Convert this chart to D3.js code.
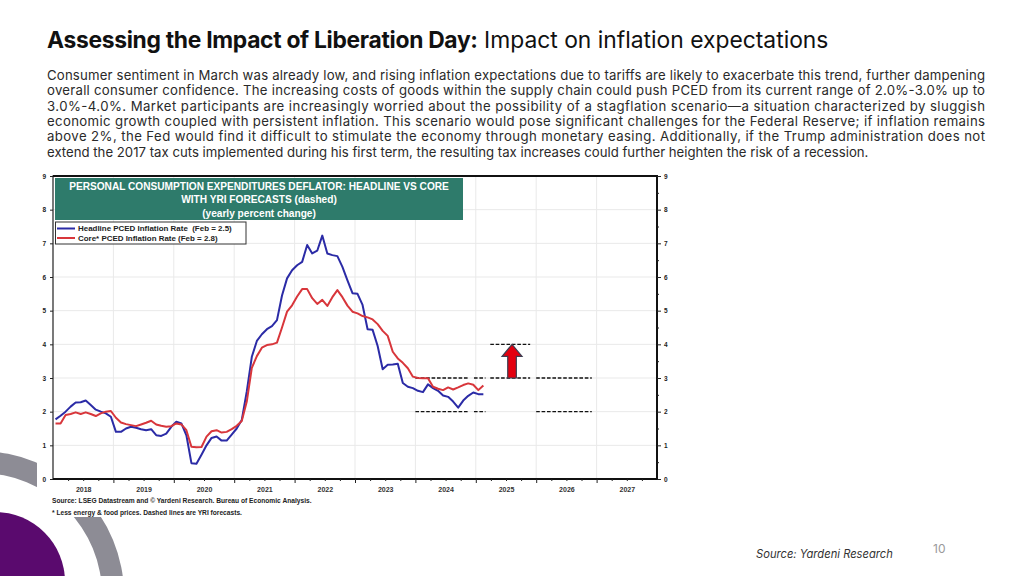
<!DOCTYPE html>
<html>
<head>
<meta charset="utf-8">
<script src="https://cdn.jsdelivr.net/npm/d3@7"></script>
<style>
  html, body { margin: 0; padding: 0; background: #fff; }
  svg { display: block; }
  text { white-space: pre; }
</style>
</head>
<body>
<svg id="slide" width="1024" height="576"></svg>
<script>
// monthly yoy % change, Jan 2018 .. Feb 2025
const startYear = 2018
const headline = [
  1.77, 1.88, 2.00, 2.15, 2.27, 2.28, 2.33, 2.20, 2.06, 2.00, 1.95, 1.85,
  1.40, 1.40, 1.50, 1.55, 1.52, 1.48, 1.45, 1.48, 1.30, 1.28, 1.35, 1.55,
  1.70, 1.65, 1.30, 0.47, 0.45, 0.72, 1.00, 1.22, 1.26, 1.14, 1.14, 1.32,
  1.50, 1.75, 2.60, 3.63, 4.10, 4.30, 4.45, 4.54, 4.72, 5.45, 5.96, 6.20,
  6.35, 6.45, 6.95, 6.70, 6.78, 7.23, 6.70, 6.65, 6.62, 6.30, 5.90, 5.52,
  5.50, 5.17, 4.45, 4.43, 3.95, 3.26, 3.39, 3.40, 3.42, 2.85, 2.74, 2.70,
  2.62, 2.58, 2.81, 2.70, 2.62, 2.48, 2.44, 2.30, 2.12, 2.33, 2.47, 2.57,
  2.52, 2.52
]
const core = [
  1.65, 1.65, 1.90, 1.93, 1.98, 1.93, 1.98, 1.93, 1.87, 1.95, 2.00, 2.02,
  1.82, 1.68, 1.63, 1.60, 1.57, 1.62, 1.67, 1.73, 1.62, 1.58, 1.55, 1.57,
  1.65, 1.62, 1.45, 0.96, 0.94, 0.95, 1.26, 1.42, 1.45, 1.38, 1.40, 1.48,
  1.58, 1.72, 2.30, 3.30, 3.65, 3.90, 3.98, 4.00, 4.05, 4.50, 4.97, 5.16,
  5.42, 5.64, 5.64, 5.37, 5.20, 5.32, 5.14, 5.40, 5.61, 5.40, 5.15, 4.97,
  4.92, 4.84, 4.80, 4.74, 4.60, 4.40, 4.25, 3.78, 3.58, 3.45, 3.29, 3.04,
  3.00, 2.99, 2.99, 2.74, 2.68, 2.64, 2.72, 2.66, 2.72, 2.79, 2.84, 2.80,
  2.64, 2.78
]
const yearLabels = [2018, 2019, 2020, 2021, 2022, 2023, 2024, 2025, 2026, 2027]
const yTicks = [0, 1, 2, 3, 4, 5, 6, 7, 8, 9]

// YRI forecast ranges (dashed)
const forecasts = [
  { value: 3, from: 2024.0, to: 2024.88 },
  { value: 3, from: 2024.97, to: 2025.16 },
  { value: 2, from: 2024.0, to: 2024.88 },
  { value: 2, from: 2024.97, to: 2025.16 },
  { value: 4, from: 2025.24, to: 2025.9 },
  { value: 3, from: 2025.24, to: 2025.9 },
  { value: 3, from: 2026.0, to: 2026.92 },
  { value: 2, from: 2026.0, to: 2026.92 }
]
const arrow = { at: 2025.6, from: 3, to: 4, headBase: 3.64 }

const titleBold = 'Assessing the Impact of Liberation Day:'
const titleRest = ' Impact on inflation expectations'
const paragraph = [
  'Consumer sentiment in March was already low, and rising inflation expectations due to tariffs are likely to exacerbate this trend, further dampening',
  'overall consumer confidence. The increasing costs of goods within the supply chain could push PCED from its current range of 2.0%-3.0% up to',
  '3.0%-4.0%. Market participants are increasingly worried about the possibility of a stagflation scenario\u2014a situation characterized by sluggish',
  'economic growth coupled with persistent inflation. This scenario would pose significant challenges for the Federal Reserve; if inflation remains',
  'above 2%, the Fed would find it difficult to stimulate the economy through monetary easing. Additionally, if the Trump administration does not',
  'extend the 2017 tax cuts implemented during his first term, the resulting tax increases could further heighten the risk of a recession.'
]
const headerLines = [
  'PERSONAL CONSUMPTION EXPENDITURES DEFLATOR: HEADLINE VS CORE',
  'WITH YRI FORECASTS (dashed)',
  '(yearly percent change)'
]
const legendItems = [
  { label: 'Headline PCED Inflation Rate  (Feb = 2.5)', color: '#2b2ba6' },
  { label: 'Core* PCED Inflation Rate (Feb = 2.8)', color: '#d8363b' }
]
const sourceLines = [
  'Source: LSEG Datastream and \u00a9 Yardeni Research. Bureau of Economic Analysis.',
  '* Less energy & food prices. Dashed lines are YRI forecasts.'
]

const SANS = 'Inter, "Noto Sans", sans-serif'
const ARIAL = '"Liberation Sans", Arial, sans-serif'

const svg = d3.select('#slide')

// scale a text's font so it spans a given width
const fitWidth = (sel, width) => {
  const fs = +sel.attr('font-size')
  const w = sel.node().getComputedTextLength()
  const size = fs * width / w
  sel.attr('font-size', size)
  return size
}

// decoration bottom-left
svg.append('path')
  .attr('transform', 'translate(-20,595)')
  .attr('d', d3.arc()({ innerRadius: 122, outerRadius: 144, startAngle: 0, endAngle: 2 * Math.PI }))
  .attr('fill', '#8d8c95')
svg.append('circle')
  .attr('cx', -5).attr('cy', 582).attr('r', 70)
  .attr('fill', '#5a0a6e')

// chart panel
svg.append('rect')
  .attr('x', 37).attr('y', 165).attr('width', 643).attr('height', 352)
  .attr('fill', '#fff')

// title
const title = svg.append('text')
  .attr('x', 47).attr('y', 48)
  .attr('font-family', SANS).attr('font-size', 21).attr('fill', '#111')
title.append('tspan').attr('font-weight', 700).attr('letter-spacing', -0.3).text(titleBold)
title.append('tspan').attr('font-weight', 400).text(titleRest)
fitWidth(title, 781)

// paragraph, justified
const para = svg.append('g')
  .attr('font-family', SANS).attr('fill', '#2a2a2a')
const lastLine = para.append('text')
  .attr('x', 47).attr('y', 80 + 5 * 15.3)
  .attr('font-size', 11)
  .text(paragraph[5])
const paraSize = fitWidth(lastLine, 822)
paragraph.slice(0, 5).forEach((line, i) => {
  para.append('text')
    .attr('x', 47).attr('y', 80 + i * 15.3)
    .attr('font-size', paraSize)
    .attr('textLength', 938)
    .attr('lengthAdjust', 'spacing')
    .text(line)
})

// chart
const margin = { top: 176, right: 657, bottom: 479, left: 53 }
const x = d3.scaleLinear().domain([2018, 2028]).range([margin.left, margin.right])
const y = d3.scaleLinear().domain([0, 9]).range([margin.bottom, margin.top])
const monthX = i => x(startYear + (i + 0.5) / 12)

const chart = svg.append('g')

// grid
chart.append('g')
  .selectAll('line')
  .data(yTicks.slice(1, -1))
  .join('line')
  .attr('x1', x(2018)).attr('x2', x(2028))
  .attr('y1', d => y(d)).attr('y2', d => y(d))
  .attr('stroke', '#e9e9e9').attr('stroke-width', 1)
chart.append('g')
  .selectAll('line')
  .data(yearLabels.slice(1))
  .join('line')
  .attr('x1', d => x(d)).attr('x2', d => x(d))
  .attr('y1', y(9)).attr('y2', y(0))
  .attr('stroke', '#e9e9e9').attr('stroke-width', 1)

// forecast dashes
chart.append('g')
  .selectAll('line')
  .data(forecasts)
  .join('line')
  .attr('x1', d => x(d.from)).attr('x2', d => x(d.to))
  .attr('y1', d => y(d.value)).attr('y2', d => y(d.value))
  .attr('stroke', '#111').attr('stroke-width', 1.4)
  .attr('stroke-dasharray', '3.6,1.8')

// series
const line = d3.line().x((d, i) => monthX(i)).y(d => y(d))
chart.append('path')
  .datum(headline)
  .attr('d', line)
  .attr('fill', 'none').attr('stroke', legendItems[0].color)
  .attr('stroke-width', 2).attr('stroke-linejoin', 'round')
chart.append('path')
  .datum(core)
  .attr('d', line)
  .attr('fill', 'none').attr('stroke', legendItems[1].color)
  .attr('stroke-width', 2).attr('stroke-linejoin', 'round')

// red arrow
const ax = x(arrow.at)
const shaft = 4.3, head = 10
chart.append('path')
  .attr('d', [
    [ax - shaft, y(arrow.from)], [ax - shaft, y(arrow.headBase)], [ax - head, y(arrow.headBase)],
    [ax, y(arrow.to)], [ax + head, y(arrow.headBase)], [ax + shaft, y(arrow.headBase)],
    [ax + shaft, y(arrow.from)]
  ].map((p, i) => (i ? 'L' : 'M') + p[0] + ',' + p[1]).join('') + 'Z')
  .attr('fill', '#e3000f').attr('stroke', '#3b3f52').attr('stroke-width', 1.2)

// frame
chart.append('rect')
  .attr('x', x(2018)).attr('y', y(9))
  .attr('width', x(2028) - x(2018)).attr('height', y(0) - y(9))
  .attr('fill', 'none').attr('stroke', '#222').attr('stroke-width', 1.2)
chart.append('path')
  .attr('d', `M${x(2018)},${y(9)}H${x(2028)}V${y(0)}H${x(2018)}`)
  .attr('fill', 'none').attr('stroke', '#111').attr('stroke-width', 2)

// axes
const axisStyle = g => g
  .call(g => g.select('.domain').remove())
  .call(g => g.selectAll('text')
    .attr('font-family', ARIAL).attr('font-weight', 700)
    .attr('font-size', 6.5).attr('fill', '#222'))
  .call(g => g.selectAll('line').attr('stroke', '#222'))

chart.append('g')
  .attr('transform', `translate(${x(2018)},0)`)
  .call(d3.axisLeft(y).tickValues(yTicks).tickSize(3).tickPadding(4))
  .call(axisStyle)
chart.append('g')
  .attr('transform', `translate(${x(2028)},0)`)
  .call(d3.axisRight(y).tickValues(yTicks).tickSize(4).tickPadding(3))
  .call(axisStyle)
chart.append('g')
  .attr('transform', `translate(${x(2028)},0)`)
  .call(d3.axisRight(y).tickValues(yTicks.slice(0, -1).map(d => d + 0.5)).tickSize(2).tickFormat(''))
  .call(axisStyle)
chart.append('g')
  .attr('transform', `translate(0,${y(0)})`)
  .call(d3.axisBottom(x).tickValues(yearLabels.slice(1)).tickSize(4).tickFormat(''))
  .call(axisStyle)
chart.append('g')
  .attr('transform', `translate(0,${y(0)})`)
  .call(d3.axisBottom(x)
    .tickValues(d3.merge(yearLabels.map(d => [d + 0.25, d + 0.5, d + 0.75])))
    .tickSize(2).tickFormat(''))
  .call(axisStyle)
chart.append('g')
  .attr('transform', `translate(0,${y(0)})`)
  .call(d3.axisBottom(x).tickValues(yearLabels.map(d => d + 0.5)).tickSize(0).tickPadding(8)
    .tickFormat(d => Math.floor(d)))
  .call(axisStyle)
  .call(g => g.selectAll('text').attr('font-size', 7).attr('fill', '#333'))

// header box
chart.append('rect')
  .attr('x', 55).attr('y', 178).attr('width', 408).attr('height', 42)
  .attr('fill', '#2e7b6b')
const header = chart.append('g')
  .attr('font-family', ARIAL).attr('font-weight', 700)
  .attr('fill', '#fff').attr('text-anchor', 'middle')
const h0 = header.append('text').attr('x', 259).attr('y', 189.5).attr('font-size', 9).text(headerLines[0])
const headerSize = fitWidth(h0, 380)
headerLines.slice(1).forEach((t, i) => {
  header.append('text').attr('x', 259).attr('y', 203 + i * 13.5)
    .attr('font-size', headerSize).text(t)
})

// legend
chart.append('rect')
  .attr('x', 55.5).attr('y', 222).attr('width', 190.5).attr('height', 22)
  .attr('fill', '#fff').attr('stroke', '#333').attr('stroke-width', 1)
const legend = chart.append('g')
  .selectAll('g')
  .data(legendItems)
  .join('g')
  .attr('transform', (d, i) => `translate(0,${228.5 + i * 9.5})`)
legend.append('line')
  .attr('x1', 57).attr('x2', 75)
  .attr('stroke', d => d.color).attr('stroke-width', 2)
const legendText = legend.append('text')
  .attr('x', 78).attr('y', 2.5)
  .attr('font-family', ARIAL).attr('font-weight', 700)
  .attr('font-size', 7).attr('fill', '#222')
  .text(d => d.label)
const legendSize = fitWidth(d3.select(legendText.nodes()[0]), 154)
legendText.attr('font-size', legendSize)

// source notes
const notes = chart.append('g')
  .attr('font-family', ARIAL).attr('font-weight', 700).attr('fill', '#222')
const n0 = notes.append('text').attr('x', 52).attr('y', 503).attr('font-size', 7).text(sourceLines[0])
const noteSize = fitWidth(n0, 260)
notes.append('text').attr('x', 52).attr('y', 515).attr('font-size', noteSize).text(sourceLines[1])

// footer
const footer = svg.append('text')
  .attr('x', 756).attr('y', 558)
  .attr('font-family', SANS).attr('font-style', 'italic')
  .attr('font-size', 11).attr('fill', '#333')
  .text('Source: Yardeni Research')
fitWidth(footer, 137)
svg.append('text')
  .attr('x', 933).attr('y', 553)
  .attr('font-family', SANS).attr('font-size', 12).attr('fill', '#9a9a9a')
  .text('10')
</script>
</body>
</html>
